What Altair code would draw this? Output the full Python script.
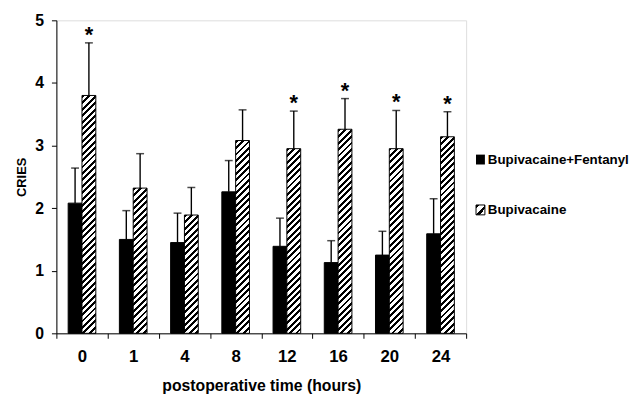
import altair as alt
import pandas as pd

times = ["0", "1", "4", "8", "12", "16", "20", "24"]
bf_mean = [2.08, 1.50, 1.45, 2.26, 1.39, 1.13, 1.25, 1.59]
bf_err = [2.64, 1.96, 1.92, 2.76, 1.84, 1.48, 1.63, 2.15]
b_mean = [3.80, 2.32, 1.89, 3.08, 2.95, 3.26, 2.95, 3.14]
b_err = [4.64, 2.87, 2.33, 3.57, 3.55, 3.75, 3.56, 3.54]
stars = ["*", "", "", "", "*", "*", "*", "*"]
series = ["Bupivacaine+Fentanyl", "Bupivacaine"]

W, H = 415, 317
YMAX = 5
BAR = 14
FONT = "Arial, Liberation Sans"

bf = pd.DataFrame({"time": times, "mean": bf_mean, "err": bf_err})
bb = pd.DataFrame({"time": times, "mean": b_mean, "err": b_err, "star": stars})

xenc = alt.X("time:N", sort=times,
             scale=alt.Scale(paddingInner=0, paddingOuter=0),
             axis=alt.Axis(title="postoperative time (hours)", labelAngle=0,
                           tickBand="extent", tickSize=5, labelPadding=11,
                           labelFontSize=17, labelFontWeight="bold",
                           titleFontSize=16, titleFontWeight="bold",
                           titleBaseline="alphabetic", titleY=58,
                           labelFont=FONT, titleFont=FONT,
                           domainColor="black", tickColor="black",
                           labelColor="black", titleColor="black"))
yenc = alt.Y("mean:Q", scale=alt.Scale(domain=[0, YMAX], nice=False),
             axis=alt.Axis(title="CRIES", values=[0, 1, 2, 3, 4, 5], format="d",
                           tickSize=5, labelPadding=8, grid=False,
                           labelFontSize=16, labelFontWeight="bold",
                           titleFontSize=13, titleFontWeight="bold",
                           titleBaseline="alphabetic", titleX=-31,
                           labelFont=FONT, titleFont=FONT,
                           domainColor="black", tickColor="black",
                           labelColor="black", titleColor="black"))


def hatch(w, h, period=6.5, frac=0.45):
    total = w + h
    p = period / total
    stops = []
    a = 0.0
    while a < 1.0:
        b = min(a + frac * p, 1.0)
        c = min(a + p, 1.0)
        stops += [alt.GradientStop(color="black", offset=a),
                  alt.GradientStop(color="black", offset=b),
                  alt.GradientStop(color="white", offset=b),
                  alt.GradientStop(color="white", offset=c)]
        a += p
    s = total / (w * w + h * h)
    return alt.LinearGradient(gradient="linear", stops=stops,
                              x1=0, y1=0, x2=w * s, y2=h * s)


black_bars = alt.Chart(bf).mark_bar(size=BAR, xOffset=-BAR / 2, color="black",
                                    stroke="black", strokeWidth=1).encode(x=xenc, y=yenc)
bf_rule = alt.Chart(bf).mark_rule(xOffset=-BAR / 2, color="black", strokeWidth=1.4).encode(
    x=alt.X("time:N", sort=times), y="mean:Q", y2="err:Q")
bf_cap = alt.Chart(bf).mark_tick(xOffset=-BAR / 2, color="black", size=8, thickness=1.5).encode(
    x=alt.X("time:N", sort=times), y="err:Q")

layers = [black_bars, bf_rule, bf_cap]
for i, t in enumerate(times):
    h = b_mean[i] * H / YMAX
    layers.append(
        alt.Chart(bb.iloc[[i]]).mark_bar(size=BAR, xOffset=BAR / 2,
                                         fill=hatch(BAR, h), stroke="black",
                                         strokeWidth=1).encode(
            x=alt.X("time:N", sort=times), y="mean:Q"))

b_rule = alt.Chart(bb).mark_rule(xOffset=BAR / 2, color="black", strokeWidth=1.4).encode(
    x=alt.X("time:N", sort=times), y="mean:Q", y2="err:Q")
b_cap = alt.Chart(bb).mark_tick(xOffset=BAR / 2, color="black", size=8, thickness=1.5).encode(
    x=alt.X("time:N", sort=times), y="err:Q")
star = alt.Chart(bb).mark_text(xOffset=BAR / 2, dy=-1, baseline="alphabetic", fontSize=22,
                               fontWeight="bold", font=FONT, color="black").encode(
    x=alt.X("time:N", sort=times), y="err:Q", text="star:N")
layers += [b_rule, b_cap, star]

# legend
leg_x = 425
leg = pd.DataFrame({"label": series, "ypos": [141, 192]})
leg_black = alt.Chart(leg.iloc[[0]]).mark_rect(color="black").encode(
    x=alt.value(leg_x), x2=alt.value(leg_x + 9),
    y=alt.value(136), y2=alt.value(146))
leg_hatch = alt.Chart(leg.iloc[[1]]).mark_rect(fill=hatch(9, 9, period=9, frac=0.4),
                                               stroke="black", strokeWidth=1).encode(
    x=alt.value(leg_x), x2=alt.value(leg_x + 9),
    y=alt.value(187), y2=alt.value(197))
leg_text = alt.Chart(leg).mark_text(align="left", baseline="middle", fontSize=13.5,
                                    fontWeight="bold", font=FONT, color="black").encode(
    x=alt.value(leg_x + 12), y=alt.Y("ypos:Q", scale=None), text="label:N")
layers += [leg_black, leg_hatch, leg_text]

chart = alt.layer(*layers).properties(
    width=W, height=H,
    autosize=alt.AutoSizeParams(type="none"),
    padding={"left": 49, "top": 10, "right": 170, "bottom": 63},
).configure_view(stroke="black", strokeWidth=1.2).configure(background="white")

chart.save("out.html", embed_options={"renderer": "svg", "actions": False})
